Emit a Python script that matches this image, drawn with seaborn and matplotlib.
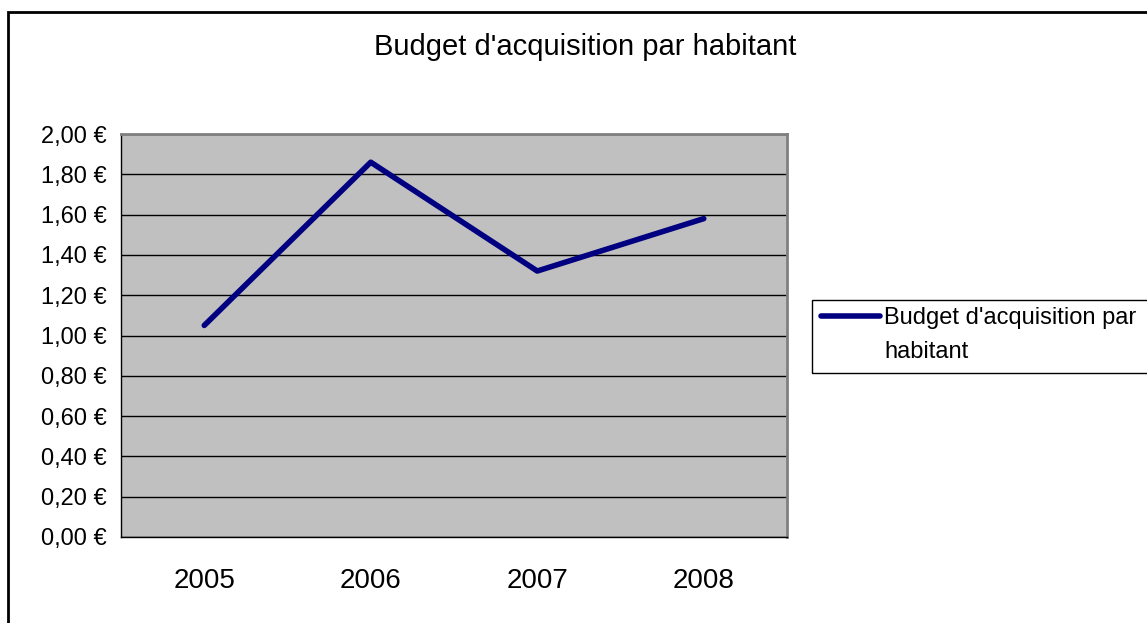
import matplotlib
matplotlib.use("Agg")
import matplotlib.pyplot as plt
import seaborn as sns
import pandas as pd
from matplotlib.ticker import FuncFormatter, MultipleLocator
from matplotlib.patches import Rectangle

# budget d'acquisition par habitant
years = ["2005", "2006", "2007", "2008"]
budget = [1.05, 1.86, 1.32, 1.58]
series_name = "Budget d'acquisition par"
series_name_2 = "habitant"

sns.set_style("white")
plt.rcParams['font.family'] = ['Liberation Sans', 'DejaVu Sans']
plt.rcParams['text.color'] = 'black'
plt.rcParams['xtick.color'] = 'black'
plt.rcParams['ytick.color'] = 'black'

df = pd.DataFrame({"annee": years, "budget": budget})

fig = plt.figure(figsize=(11.47, 6.23), dpi=100)
ax = fig.add_axes([121/1147, 1-537/623, (787-121)/1147, (537-134)/623])
ax.set_facecolor("#C0C0C0")

sns.lineplot(data=df, x="annee", y="budget", ax=ax, color="#000080",
             linewidth=4, label=series_name, legend=False, zorder=3,
             solid_capstyle="round", solid_joinstyle="round")

ax.set_xlim(-0.5, 3.5)
ax.set_ylim(0, 2)
ax.yaxis.set_major_locator(MultipleLocator(0.2))
ax.yaxis.set_major_formatter(FuncFormatter(lambda v, p: f"{v:.2f} €".replace(".", ",")))
ax.grid(axis="y", color="black", linewidth=1)
ax.set_axisbelow(True)

# category ticks sit between the years
ax.set_xticks([-0.5, 0.5, 1.5, 2.5, 3.5], minor=False)
ax.set_xticklabels([])
ax.set_xticks(range(len(years)), minor=True)
ax.set_xticklabels(years, minor=True, fontsize=20)
ax.tick_params(axis="x", which="major", direction="out", length=8, width=1, color="black")
ax.tick_params(axis="x", which="minor", length=0, pad=22)
ax.tick_params(axis="y", direction="out", length=6, width=1, color="black", labelsize=17, pad=4)
ax.set_xlabel("")
ax.set_ylabel("")

for s in ["left", "bottom"]:
    ax.spines[s].set_color("black")
    ax.spines[s].set_linewidth(1)
for s in ["top", "right"]:
    ax.spines[s].set_color("#808080")
    ax.spines[s].set_linewidth(2)

fig.text(585/1147, 1-47/623, "Budget d'acquisition par habitant", ha="center", va="center", fontsize=21)

handles, labels = ax.get_legend_handles_labels()
leg = fig.legend(handles, labels, loc="upper left", bbox_to_anchor=(814/1147, 1-300/623),
                 bbox_transform=fig.transFigure, borderaxespad=0, frameon=False,
                 fontsize=17, handlelength=2.5, handletextpad=0.15, borderpad=0.3)
for h in leg.legend_handles:
    h.set_solid_capstyle("round")
# second line of the wrapped legend label
fig.text(884/1147, 1-352/623, series_name_2, ha="left", va="center", fontsize=17)

# legend frame runs past the right edge like the original
fig.patches.append(Rectangle((812/1147, 1-373/623), 0.5, 73/623, transform=fig.transFigure,
                             fill=False, edgecolor="black", linewidth=1))

fig.patches.append(Rectangle((8/1147, -0.1), 1.2, 1 - 12/623 + 0.1, transform=fig.transFigure,
                             fill=False, edgecolor="black", linewidth=2))

fig.savefig("out.png", dpi=100)
